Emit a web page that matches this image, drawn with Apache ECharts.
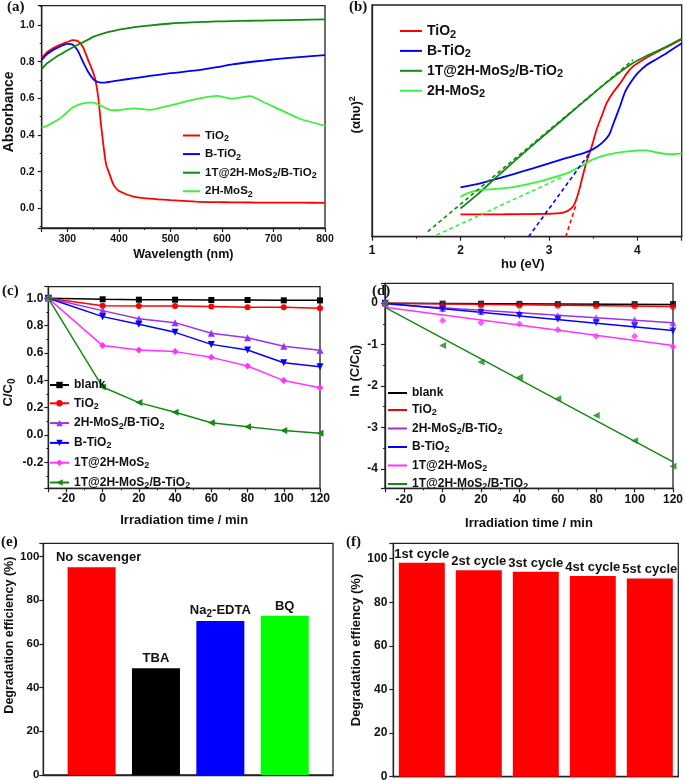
<!DOCTYPE html>
<html><head><meta charset="utf-8">
<script src="https://cdn.jsdelivr.net/npm/echarts@6/dist/echarts.min.js"></script>
<style>html,body{margin:0;padding:0;background:#fff}#c{width:685px;height:780px}</style>
</head><body><div id="c"></div>
<script>
// ---------- (a) UV-vis absorbance ----------
const waveA = [250,260,270,280,290,300,310,320,330,340,350,355,360,365,370,375,380,390,400,430,460,500,550,590,620,655,680,700,750,800];
const absTiO2 = [0.82,0.85,0.87,0.885,0.897,0.907,0.917,0.912,0.88,0.81,0.74,0.69,0.6,0.46,0.34,0.24,0.2,0.125,0.095,0.063,0.053,0.045,0.037,0.034,0.033,0.032,0.031,0.031,0.031,0.03];
const absBTiO2 = [0.81,0.84,0.86,0.875,0.888,0.897,0.893,0.86,0.8,0.745,0.705,0.695,0.688,0.686,0.686,0.687,0.689,0.694,0.698,0.71,0.722,0.737,0.752,0.77,0.785,0.798,0.806,0.812,0.825,0.835];
const abs1TB = [0.76,0.79,0.81,0.83,0.845,0.862,0.877,0.892,0.906,0.92,0.935,0.94,0.945,0.95,0.954,0.958,0.962,0.968,0.974,0.988,0.997,1.008,1.015,1.019,1.021,1.023,1.024,1.025,1.028,1.03];
const abs2H = [0.44,0.45,0.465,0.48,0.5,0.525,0.55,0.563,0.572,0.577,0.576,0.572,0.566,0.56,0.553,0.546,0.54,0.535,0.536,0.545,0.537,0.562,0.595,0.613,0.598,0.612,0.58,0.555,0.49,0.45];
const legendA = ['TiO2','B-TiO2','1T@2H-MoS2/B-TiO2','2H-MoS2'];

// ---------- (b) Tauc plot (arbitrary units) ----------
const eTiO2 = [2.0,2.5,3.0,3.15,3.22,3.28,3.33,3.38,3.43,3.48,3.54,3.6,3.65,3.72,3.8,3.88,3.95,4.05,4.15,4.3,4.5];
const tTiO2 = [9.6,9.7,9.9,10.3,11.3,13.5,18.5,26,33,38.5,46.5,52.5,57.5,62,66,70.5,73.5,76,78.3,81.2,85.2];
const eBTiO2 = [2.0,2.2,2.4,2.6,2.8,3.0,3.2,3.4,3.5,3.6,3.68,3.74,3.8,3.86,3.93,4.0,4.1,4.2,4.3,4.4,4.5];
const tBTiO2 = [21.3,22.8,24.8,27,29.3,31.6,34,36.2,37.8,40.5,44,50,56,62.5,67,70.5,74,76.3,78.5,81,83.5];
const e1TB = [2.0,2.2,2.4,2.6,2.8,3.0,3.2,3.4,3.6,3.8,3.95,4.1,4.3,4.5];
const t1TB = [12.2,18.5,25.5,32.3,39,45.5,52,58.5,65,71,75,78,81.5,85.5];
const e2H = [2.0,2.1,2.2,2.4,2.6,2.8,3.0,3.2,3.35,3.5,3.65,3.8,4.0,4.1,4.2,4.35,4.5];
const t2H = [17.3,19,20,20.6,21.4,23,25,27.3,30.2,33.4,35.3,36.4,37.2,37.3,36.5,35.6,36];
const tanE1TB = [1.63,3.95], tanT1TB = [2.2,76.3];
const tanE2H = [1.73,3.16], tanT2H = [0.7,25.9];
const tanEBTiO2 = [2.77,3.47], tanTBTiO2 = [0,36.7];
const tanETiO2 = [3.19,3.31], tanTTiO2 = [0,14.4];
const legendB = ['TiO2','B-TiO2','1T@2H-MoS2/B-TiO2','2H-MoS2'];

// ---------- (c) C/C0 vs time ----------
const timeC = [-30,0,20,40,60,80,100,120];
const cBlank = [1,0.993,0.99,0.99,0.988,0.988,0.985,0.985];
const cTiO2 = [1,0.945,0.944,0.944,0.94,0.935,0.934,0.927];
const c2HB = [1,0.91,0.85,0.822,0.744,0.712,0.649,0.62];
const cBTiO2 = [1,0.866,0.81,0.751,0.663,0.622,0.529,0.5];
const c1T = [1,0.654,0.622,0.61,0.568,0.505,0.398,0.346];
const c1TB = [1,0.351,0.237,0.166,0.09,0.061,0.032,0.012];
const legendC = ['blank','TiO2','2H-MoS2/B-TiO2','B-TiO2','1T@2H-MoS2','1T@2H-MoS2/B-TiO2'];

// ---------- (d) ln(C/C0) vs time ----------
const timeD = [-30,0,20,40,60,80,100,120];
const lnBlank = [0,-0.01,-0.01,-0.015,-0.02,-0.02,-0.02,-0.02];
const lnTiO2 = [0,-0.055,-0.055,-0.06,-0.06,-0.075,-0.075,-0.09];
const ln2HB = [0,-0.12,-0.2,-0.24,-0.3,-0.35,-0.4,-0.47];
const lnBTiO2 = [0,-0.145,-0.22,-0.3,-0.39,-0.47,-0.55,-0.67];
const ln1T = [0,-0.42,-0.47,-0.5,-0.64,-0.8,-0.8,-1.05];
const ln1TB = [0,-1.02,-1.42,-1.79,-2.31,-2.71,-3.32,-3.94];
const fitTime = [-30,120];
const fitBlank = [0,-0.03], fitTiO2 = [0,-0.08], fit2HB = [-0.02,-0.47];
const fitBTiO2 = [0,-0.66], fit1T = [-0.1,-1.02], fit1TB = [-0.1,-3.83];
const legendD = ['blank','TiO2','2H-MoS2/B-TiO2','B-TiO2','1T@2H-MoS2','1T@2H-MoS2/B-TiO2'];

// ---------- (e) scavengers ----------
const scavengers = ['No scavenger','TBA','Na2-EDTA','BQ'];
const scavengerEff = [95,48.8,70.5,72.8];

// ---------- (f) cycles ----------
const cycles = ['1st cycle','2st cycle','3st cycle','4st cycle','5st cycle'];
const cycleEff = [98.1,94.6,94.0,92.0,90.9];

// ================= styling / building =================
const FONT = '"Liberation Sans", Arial, Helvetica, sans-serif';
const SERIF = '"Liberation Serif", "Times New Roman", serif';
const INK = '#111';
const COL = {red:'#ff0000', blue:'#0000ff', dkgreen:'#138a13', ltgreen:'#3cf03c', black:'#000000', purple:'#9933ee', magenta:'#ff33ff'};
const zip = (xs, ys) => xs.map((x, i) => [x, ys[i]]);

function richSub(txt){
  const parts = txt.split(/(?<=[A-Za-z])(\d)/);
  return parts.map((p, i) => p === '' ? '' : (i % 2 ? '{s|' + p + '}' : '{n|' + p + '}')).join('');
}
function richStyles(fs){
  return {
    n:{fontFamily:FONT, fontWeight:'bold', fontSize:fs, color:INK, lineHeight:Math.round(fs*1.15)},
    s:{fontFamily:FONT, fontWeight:'bold', fontSize:Math.round(fs*0.78), color:INK, padding:[Math.round(fs*0.5),0,0,0]},
    p:{fontFamily:FONT, fontWeight:'bold', fontSize:Math.round(fs*0.72), color:INK, padding:[0,0,Math.round(fs*0.5),0]}
  };
}
function fmtStep(step, dec){
  return v => { const k = v / step; return Math.abs(k - Math.round(k)) < 1e-6 ? (dec > 0 ? v.toFixed(dec) : String(Math.round(v))) : ''; };
}
const axLine = {show:true, onZero:false, lineStyle:{color:'#222', width:1.3}};
function tick(len){ return {show:true, inside:false, length:len, lineStyle:{color:'#222', width:1.2}}; }
function minor(show){ return {show:show, splitNumber:2, length:2, lineStyle:{color:'#222', width:1}}; }
function valAxis(gi, min, max, step, dec, fs, margin, extra){
  return Object.assign({type:'value', gridIndex:gi, min, max, minInterval:step, maxInterval:step,
    axisLine:axLine, axisTick:tick(4), minorTick:minor(true), splitLine:{show:false},
    axisLabel:{show:true, fontFamily:FONT, fontWeight:'bold', fontSize:fs, color:INK, margin, formatter:fmtStep(step, dec)},
    nameTextStyle:{fontFamily:FONT, fontWeight:'bold', fontSize:13, color:INK}}, extra || {});
}
function legendCfg(names, tag, left, top, fs, gap, iw, ih, icon){
  const cfg = {data:names.map(n => n + '#' + tag), orient:'vertical', left, top, itemGap:gap, itemWidth:iw, itemHeight:ih,
    padding:0, selectedMode:false, formatter:n => richSub(n.split('#')[0]),
    textStyle:{fontFamily:FONT, fontWeight:'bold', fontSize:fs, color:INK, rich:richStyles(fs)}};
  if (icon) cfg.icon = icon;
  return cfg;
}
const gridBase = {show:true, borderColor:'#222', borderWidth:1.3, backgroundColor:'transparent', containLabel:false, outerBoundsMode:'none'};
const grids = [
  Object.assign({left:41.7, top:5.7, width:283.3, height:222.3}, gridBase),
  Object.assign({left:372, top:5, width:309.7, height:231.7}, gridBase),
  Object.assign({left:48.3, top:286.7, width:271.7, height:201.6}, gridBase),
  Object.assign({left:385, top:283.3, width:288, height:205}, gridBase),
  Object.assign({left:43.3, top:543.3, width:289.7, height:231.7}, gridBase),
  Object.assign({left:393.3, top:543.3, width:285, height:233.4}, gridBase)
];

const xAxes = [
  valAxis(0, 250, 800, 100, 0, 10.5, 6, {name:'Wavelength (nm)', nameLocation:'middle', nameGap:20, nameTextStyle:{fontFamily:FONT, fontWeight:'bold', fontSize:12.5, color:INK}}),
  valAxis(1, 1, 4.5, 1, 0, 12, 8, {name:'h\u03c5 (eV)', nameLocation:'middle', nameGap:18, nameTextStyle:{fontFamily:FONT, fontWeight:'bold', fontSize:13, color:INK, padding:[0,8,0,0]}}),
  valAxis(2, -30, 120, 20, 0, 12, 4, {name:'Irradiation time / min', nameLocation:'middle', nameGap:26, nameTextStyle:{fontFamily:FONT, fontWeight:'bold', fontSize:13, color:INK}}),
  valAxis(3, -30, 120, 20, 0, 12, 5, {name:'Irradiation time / min', nameLocation:'middle', nameGap:29, nameTextStyle:{fontFamily:FONT, fontWeight:'bold', fontSize:13, color:INK}}),
  {type:'value', gridIndex:4, min:0.25, max:4.75, axisLine:axLine, axisTick:{show:false}, axisLabel:{show:false}, splitLine:{show:false}},
  {type:'category', gridIndex:5, data:cycles, axisLine:axLine, axisTick:{show:false}, axisLabel:{show:false}, splitLine:{show:false}}
];
const yAxes = [
  valAxis(0, -0.107, 1.105, 0.2, 1, 10.5, 7, {name:'Absorbance', nameLocation:'middle', nameGap:25, nameTextStyle:{fontFamily:FONT, fontWeight:'bold', fontSize:14, color:INK, padding:[0,0,0,10]}}),
  {type:'value', gridIndex:1, min:0, max:100, axisLine:axLine, axisTick:{show:false}, axisLabel:{show:false}, splitLine:{show:false},
    name:'{n|(\u03b1h\u03c5)}{p|2}', nameLocation:'middle', nameGap:8,
    nameTextStyle:{fontFamily:FONT, fontWeight:'bold', fontSize:13, color:INK, padding:[0,0,0,12], rich:richStyles(13)}},
  valAxis(2, -0.39, 1.085, 0.2, 1, 12, 5, {name:'{n|C/C}{s|0}', nameLocation:'middle', nameGap:31,
    nameTextStyle:{fontFamily:FONT, fontWeight:'bold', fontSize:13, color:INK, padding:[0,10,0,0], rich:richStyles(13)}}),
  valAxis(3, -4.47, 0.48, 1, 0, 12, 7, {name:'{n|ln (C/C}{s|0}{n|)}', nameLocation:'middle', nameGap:19,
    nameTextStyle:{fontFamily:FONT, fontWeight:'bold', fontSize:13, color:INK, padding:[0,0,0,30], rich:richStyles(13)}}),
  valAxis(4, 0, 106, 20, 0, 11.5, 4, {minorTick:minor(false), name:'Degradation efficiency (%)', nameLocation:'middle', nameGap:25,
    nameTextStyle:{fontFamily:FONT, fontWeight:'bold', fontSize:12.5, color:INK, padding:[0,0,0,48]}}),
  valAxis(5, 0, 107, 20, 0, 12, 6, {minorTick:minor(false), name:'Degradation effiency (%)', nameLocation:'middle', nameGap:30,
    nameTextStyle:{fontFamily:FONT, fontWeight:'bold', fontSize:13, color:INK, padding:[0,0,0,20]}})
];

const series = [];
function line(name, gi, data, color, extra){
  series.push(Object.assign({type:'line', name, xAxisIndex:gi, yAxisIndex:gi, data, symbol:'none',
    lineStyle:{color, width:1.8}, itemStyle:{color}, z:3}, extra || {}));
}
// (a)
line('TiO2#a', 0, zip(waveA, absTiO2), COL.red, {smooth:0.2});
line('B-TiO2#a', 0, zip(waveA, absBTiO2), COL.blue, {smooth:0.2});
line('1T@2H-MoS2/B-TiO2#a', 0, zip(waveA, abs1TB), COL.dkgreen, {smooth:0.2});
line('2H-MoS2#a', 0, zip(waveA, abs2H), COL.ltgreen, {smooth:0.2});
// (b)
line('TiO2#b', 1, zip(eTiO2, tTiO2), COL.red, {smooth:0.2});
line('B-TiO2#b', 1, zip(eBTiO2, tBTiO2), COL.blue, {smooth:0.2});
line('1T@2H-MoS2/B-TiO2#b', 1, zip(e1TB, t1TB), COL.dkgreen, {smooth:0.2});
line('2H-MoS2#b', 1, zip(e2H, t2H), COL.ltgreen, {smooth:0.2});
const dash = {type:[4,3]};
line('tan1#b', 1, zip(tanE1TB, tanT1TB), COL.dkgreen, {lineStyle:Object.assign({color:COL.dkgreen, width:1.6}, dash)});
line('tan2#b', 1, zip(tanE2H, tanT2H), COL.ltgreen, {lineStyle:Object.assign({color:COL.ltgreen, width:1.6}, dash)});
line('tan3#b', 1, zip(tanEBTiO2, tanTBTiO2), COL.blue, {lineStyle:Object.assign({color:COL.blue, width:1.6}, dash)});
line('tan4#b', 1, zip(tanETiO2, tanTTiO2), COL.red, {lineStyle:Object.assign({color:COL.red, width:1.6}, dash)});
// (c)
const markC = [
  ['blank', cBlank, COL.black, 'rect', 0, 6],
  ['TiO2', cTiO2, COL.red, 'circle', 0, 6],
  ['2H-MoS2/B-TiO2', c2HB, COL.purple, 'triangle', 0, 7],
  ['B-TiO2', cBTiO2, COL.blue, 'triangle', 180, 7],
  ['1T@2H-MoS2', c1T, COL.magenta, 'diamond', 0, 7],
  ['1T@2H-MoS2/B-TiO2', c1TB, COL.dkgreen, 'triangle', 90, 7]
];
markC.forEach(m => line(m[0] + '#c', 2, zip(timeC, m[1]), m[2], {symbol:m[3], symbolRotate:m[4], symbolSize:m[5], showSymbol:true, lineStyle:{color:m[2], width:1.5}}));
// (d)
const markD = [
  ['blank', lnBlank, fitBlank, COL.black, 'rect', 0, 6],
  ['TiO2', lnTiO2, fitTiO2, COL.red, 'circle', 0, 6],
  ['2H-MoS2/B-TiO2', ln2HB, fit2HB, COL.purple, 'triangle', 0, 7],
  ['B-TiO2', lnBTiO2, fitBTiO2, COL.blue, 'triangle', 180, 7],
  ['1T@2H-MoS2', ln1T, fit1T, COL.magenta, 'diamond', 0, 7],
  ['1T@2H-MoS2/B-TiO2', ln1TB, fit1TB, COL.dkgreen, 'triangle', 90, 7]
];
markD.forEach(m => {
  line(m[0] + '#d', 3, zip(fitTime, m[2]), m[3], {lineStyle:{color:m[3], width:1.5}});
  series.push({type:'scatter', name:m[0] + ' pts#d', xAxisIndex:3, yAxisIndex:3, data:zip(timeD, m[1]),
    symbol:m[4], symbolRotate:m[5], symbolSize:m[6], itemStyle:{color:m[3]}, z:4});
});
// (e)
const scavColors = [COL.red, COL.black, COL.blue, '#00ff00'];
const scavLabelShift = [7, 0, 0, 0];
series.push({type:'bar', name:'scav', xAxisIndex:4, yAxisIndex:4, barWidth:48,
  data:scavengerEff.map((v, i) => ({value:[i + 1, v], itemStyle:{color:scavColors[i]}, label:{offset:[scavLabelShift[i], 0]}})),
  label:{show:true, position:'top', distance:2, formatter:p => richSub(scavengers[p.dataIndex]),
    fontFamily:FONT, fontWeight:'bold', fontSize:13, color:INK, rich:richStyles(13)}});
// (f)
series.push({type:'bar', name:'cyc', xAxisIndex:5, yAxisIndex:5, barWidth:46, data:cycleEff,
  itemStyle:{color:COL.red},
  label:{show:true, position:'top', distance:2, formatter:'{b}', fontFamily:FONT, fontWeight:'bold', fontSize:13, color:INK}});

const panelLabel = (t, left, top) => ({type:'text', left, top, z:10,
  style:{text:t, font:'bold 15px ' + SERIF, fill:INK}});

const option = {
  animation:false,
  backgroundColor:'#ffffff',
  grid:grids,
  xAxis:xAxes,
  yAxis:yAxes,
  legend:[
    legendCfg(legendA, 'a', 183, 129.5, 11.5, 5.1, 17, 2, 'rect'),
    legendCfg(legendB, 'b', 400, 24, 14, 3.9, 22, 2, 'rect'),
    legendCfg(legendC, 'c', 49, 379, 12, 6.3, 19, 8),
    legendCfg(legendD, 'd', 388, 387, 12, 5.0, 19, 2, 'rect')
  ],
  series,
  graphic:[
    panelLabel('(a)', 7, 0), panelLabel('(b)', 349, 0),
    panelLabel('(c)', 2, 284), panelLabel('(d)', 372, 284),
    panelLabel('(e)', 1, 535), panelLabel('(f)', 346, 535)
  ]
};
const chart = echarts.init(document.getElementById('c'), null, {renderer:'canvas', width:685, height:780});
chart.setOption(option);
</script></body></html>
